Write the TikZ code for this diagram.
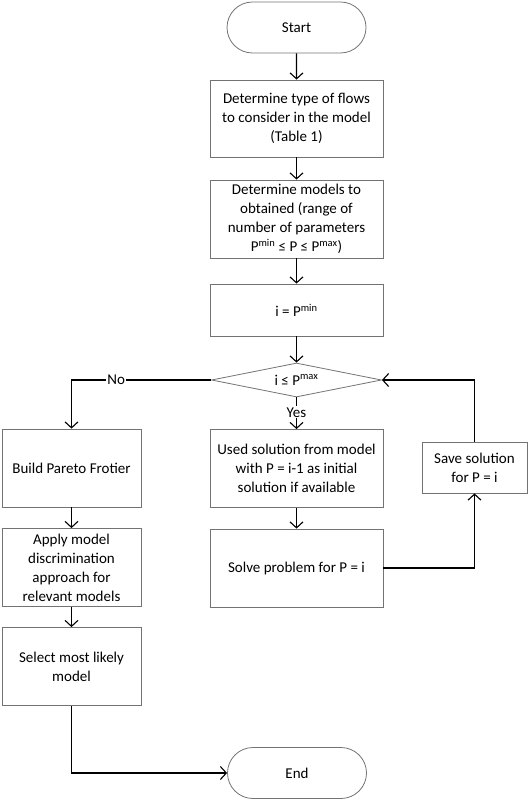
\documentclass[tikz,border=0pt]{standalone}
\usepackage{fontspec}
\setmainfont{Carlito}
\usetikzlibrary{shapes.geometric,shapes.misc,arrows.meta}
\begin{document}
\begin{tikzpicture}[x=1pt,y=-1pt,
  box/.style={draw=black!55,line width=0.8pt,align=center,inner sep=0pt,
    font=\fontsize{15}{19}\selectfont,text=black},
  term/.style={box,rounded rectangle,minimum width=139pt,minimum height=51pt},
  proc/.style={box,rectangle,minimum width=173pt,minimum height=77pt},
  side/.style={box,rectangle,minimum width=139pt,minimum height=78pt},
  save/.style={box,rectangle,minimum width=105pt,minimum height=51pt},
  dec/.style={box,diamond,aspect=5,minimum width=170pt,minimum height=34pt},
  conn/.style={line width=1.1pt,-{Straight Barb[length=6pt,width=13pt]}},
  lbl/.style={fill=white,inner sep=1pt,font=\fontsize{15}{19}\selectfont}
]
\useasboundingbox (0,0) rectangle (529,802);
\node[term] (start) at (296.5,27.5) {Start};
\node[proc] (b1) at (296.5,118.5) {Determine type of flows\\to consider in the model\\(Table 1)};
\node[proc,minimum height=78pt] (b2) at (296.5,219) {Determine models to\\obtained (range of\\number of parameters\\P\textsuperscript{min} ≤ P ≤ P\textsuperscript{max})};
\node[proc,minimum height=52pt] (b3) at (296.5,310) {i = P\textsuperscript{min}};
\node[dec] (dia) at (296.5,380) {i ≤ P\textsuperscript{max}};
\node[proc,minimum height=78pt] (used) at (296.5,468.5) {Used solution from model\\with P = i-1 as initial\\solution if available};
\node[proc,minimum height=78pt] (solve) at (296.5,568) {Solve problem for P = i};
\node[save] (sav) at (474.5,467.5) {Save solution\\for P = i};
\node[side] (build) at (71.5,468) {Build Pareto Frotier};
\node[side] (apply) at (71.5,567.5) {Apply model\\discrimination\\approach for\\relevant models};
\node[side] (select) at (71.5,666.5) {Select most likely\\model};
\node[term] (end) at (297,773) {End};

\draw[conn] (start) -- (b1);
\draw[conn] (b1) -- (b2);
\draw[conn] (b2) -- (b3);
\draw[conn] (b3) -- (dia);
\draw[conn] (dia.south) -- node[lbl,pos=0.47] {Yes} (used.north);
\draw[conn] (dia.west) -| node[lbl,pos=0.34] {No} (build.north);
\draw[conn] (used) -- (solve);
\draw[conn] (solve.east) -| (sav.south);
\draw[conn] (sav.north) |- (dia.east);
\draw[conn] (build) -- (apply);
\draw[conn] (apply) -- (select);
\draw[conn] (select.south) |- (end.west);
\end{tikzpicture}
\end{document}
